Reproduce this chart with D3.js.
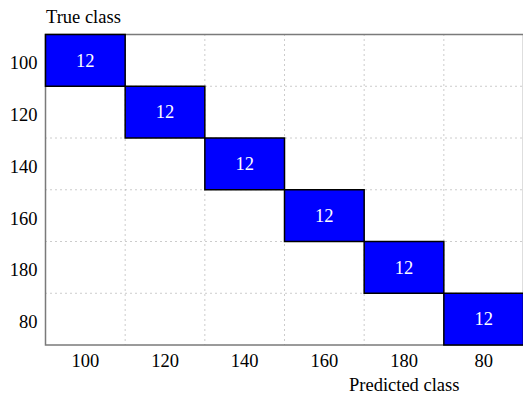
<!DOCTYPE html>
<html>
<head>
<meta charset="utf-8">
<script src="https://cdn.jsdelivr.net/npm/d3@7"></script>
<style>
  html, body { margin: 0; padding: 0; background: #fff; }
  svg { display: block; }
  text { font-family: "Liberation Serif", "DejaVu Serif", serif; }
</style>
</head>
<body>
<svg id="chart" width="523" height="396"></svg>
<script>
// Class labels along both axes
const trueClasses = ["100", "120", "140", "160", "180", "80"];
const predictedClasses = ["100", "120", "140", "160", "180", "80"];
// Confusion counts: rows = true class, columns = predicted class
const counts = [
  [12, 0, 0, 0, 0, 0],
  [0, 12, 0, 0, 0, 0],
  [0, 0, 12, 0, 0, 0],
  [0, 0, 0, 12, 0, 0],
  [0, 0, 0, 0, 12, 0],
  [0, 0, 0, 0, 0, 12]
];

const FS = 18.5;
const svg = d3.select("#chart");
const W = 523, H = 396;
const x0 = 45.5, x1 = W + 0.5;
const y0 = 34.5, y1 = 345;

const x = d3.scaleBand().domain(predictedClasses).range([x0, x1]);
const y = d3.scaleBand().domain(trueClasses).range([y0, y1]);

// dotted grid on cell boundaries
const g = svg.append("g");
const xb = predictedClasses.slice(1).map(c => x(c));
const yb = trueClasses.slice(1).map(c => y(c));
g.selectAll("line.vg").data(xb).join("line")
  .attr("x1", d => d).attr("x2", d => d).attr("y1", y0).attr("y2", y1)
  .attr("stroke", "#999").attr("stroke-width", 1).attr("stroke-dasharray", "1,4");
g.selectAll("line.hg").data(yb).join("line")
  .attr("y1", d => d).attr("y2", d => d).attr("x1", x0).attr("x2", x1)
  .attr("stroke", "#999").attr("stroke-width", 1).attr("stroke-dasharray", "1,4");

// frame
svg.append("rect")
  .attr("x", x0).attr("y", y0).attr("width", x1 - x0).attr("height", y1 - y0)
  .attr("fill", "none").attr("stroke", "#7a7a7a").attr("stroke-width", 1.5);

// non-zero cells
const cells = [];
counts.forEach((row, i) => row.forEach((v, j) => {
  if (v > 0) cells.push({ t: trueClasses[i], p: predictedClasses[j], v });
}));
const cg = svg.append("g");
cg.selectAll("rect").data(cells).join("rect")
  .attr("x", d => x(d.p)).attr("y", d => y(d.t))
  .attr("width", x.bandwidth()).attr("height", y.bandwidth())
  .attr("fill", "#0000ff").attr("stroke", "#000").attr("stroke-width", 1.5);
cg.selectAll("text").data(cells).join("text")
  .attr("x", d => x(d.p) + x.bandwidth() / 2)
  .attr("y", d => y(d.t) + y.bandwidth() / 2)
  .attr("dy", "0.34em")
  .attr("text-anchor", "middle")
  .attr("fill", "#fff").attr("font-size", FS)
  .text(d => d.v);

// axes (labels only)
const xAxis = d3.axisBottom(x).tickSize(0).tickPadding(9);
svg.append("g").attr("transform", `translate(0,${y1})`).call(xAxis)
  .call(s => s.select(".domain").remove())
  .selectAll("text").attr("font-size", FS).attr("fill", "#000");
const yAxis = d3.axisLeft(y).tickSize(0).tickPadding(8);
svg.append("g").attr("transform", `translate(${x0},0)`).call(yAxis)
  .call(s => s.select(".domain").remove())
  .selectAll("text").attr("font-size", FS).attr("fill", "#000")
  .attr("dy", "0.48em");

// axis titles
svg.append("text").attr("x", 46).attr("y", 23)
  .attr("font-size", FS).attr("fill", "#000").text("True class");
svg.append("text").attr("x", 349).attr("y", 391)
  .attr("font-size", FS).attr("fill", "#000").text("Predicted class");
</script>
</body>
</html>
